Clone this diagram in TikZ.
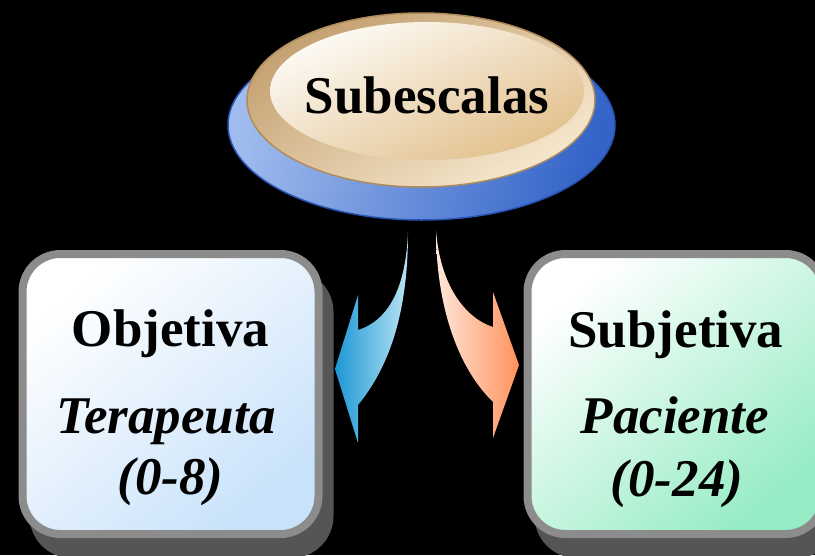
\documentclass[tikz,border=0pt]{standalone}
\usepackage{fontspec}
\setmainfont{Liberation Serif}
\usetikzlibrary{shadows}
\definecolor{boxgray}{RGB}{140,140,140}
\definecolor{shadowgray}{RGB}{85,85,85}
\definecolor{lblue}{RGB}{200,226,250}
\definecolor{lgreen}{RGB}{150,236,196}
\definecolor{bluelight}{RGB}{160,188,238}
\definecolor{bluedark}{RGB}{52,100,200}
\definecolor{blueedge}{RGB}{40,84,180}
\definecolor{tandark}{RGB}{196,160,112}
\definecolor{tanlight}{RGB}{246,232,206}
\definecolor{tanedge}{RGB}{176,140,92}
\definecolor{innerwhite}{RGB}{253,251,246}
\definecolor{innertan}{RGB}{226,192,140}
\definecolor{arrowbluedark}{RGB}{28,152,212}
\definecolor{arrowbluelight}{RGB}{186,228,244}
\definecolor{arroworangelight}{RGB}{255,230,218}
\definecolor{arroworangedark}{RGB}{255,146,92}
\begin{document}
\begin{tikzpicture}[x=1pt,y=-1pt,
  boxstyle/.style={rectangle, rounded corners=38pt, line width=8pt, draw=boxgray,
    minimum width=296pt, minimum height=280pt, inner sep=0pt,
    general shadow={fill=shadowgray, draw=shadowgray, line width=8pt, shadow xshift=11pt, shadow yshift=-20pt}},
  boldtext/.style={font=\fontsize{53}{60}\selectfont\bfseries, inner sep=0pt, anchor=base},
  ittext/.style={font=\fontsize{53}{60}\selectfont\bfseries\itshape, inner sep=0pt, anchor=base}]
\fill[black] (0,0) rectangle (815,555);
\useasboundingbox (0,0) rectangle (815,555);

% top ellipse
\shade[left color=bluelight, right color=bluedark, shading angle=75, draw=blueedge, line width=1.5pt]
  (421.5,125) ellipse [x radius=193.5, y radius=95];
\shade[top color=tandark, bottom color=tanlight, shading angle=30, draw=tanedge, line width=1.5pt]
  (421,100) ellipse [x radius=174, y radius=87];
\shade[top color=innerwhite, bottom color=innertan, shading angle=25]
  (427,91) ellipse [x radius=157, y radius=69];
\node[boldtext] (sub) at (427,113) {Subescalas};

% boxes
\node[boxstyle, top color=white, bottom color=lblue, shading angle=40] (obj) at (170.5,394) {};
\node[boxstyle, top color=white, bottom color=lgreen, shading angle=40] (subj) at (675.5,394) {};

\node[boldtext] (objt) at (170.5,346) {Objetiva};
\node[ittext] (ter) at (166,433) {Terapeuta};
\node[ittext] (r08) at (170.5,494) {(0-8)};

\node[boldtext] (subjt) at (676,347) {Subjetiva};
\node[ittext] (pac) at (675,433) {Paciente};
\node[ittext] (r024) at (677,496) {(0-24)};

% arrows
\shade[left color=arrowbluedark, right color=arrowbluelight]
  (408,232) .. controls (408,300) and (395,360) .. (358,405)
  -- (358,443) -- (335,369) -- (358,295) -- (358,330)
  .. controls (390,320) and (406,285) .. (408,232) -- cycle;
\shade[left color=arroworangelight, right color=arroworangedark]
  (436,230) .. controls (436,300) and (455,365) .. (493,402)
  -- (493,438) -- (519,365) -- (493,292) -- (493,327)
  .. controls (465,318) and (440,285) .. (436,230) -- cycle;
\end{tikzpicture}
\end{document}
